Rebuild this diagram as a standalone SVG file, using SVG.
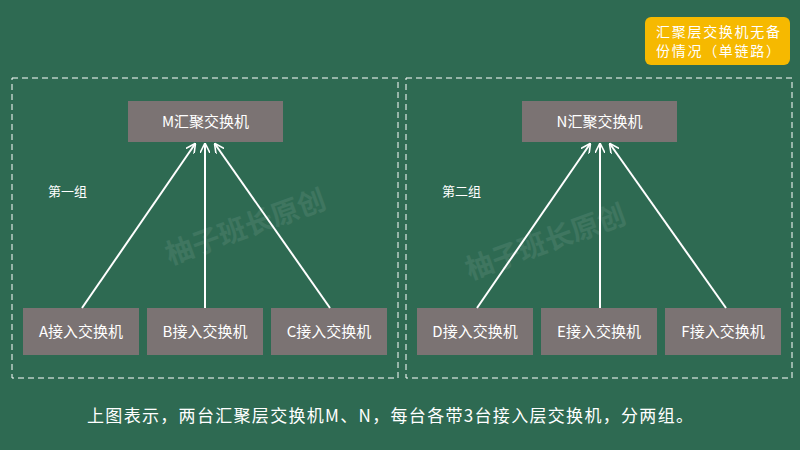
<svg xmlns="http://www.w3.org/2000/svg" width="800" height="450" viewBox="0 0 800 450">
<defs>
<marker id="ah" viewBox="0 0 10 10" refX="9" refY="5" markerWidth="10" markerHeight="10" markerUnits="userSpaceOnUse" orient="auto"><path d="M0,0 L10,5 L0,10" fill="none" stroke="#fff" stroke-width="1.6"/></marker>
<style>
text{font-family:"Noto Sans CJK SC","Liberation Sans",sans-serif;fill:#fff}
.box{fill:#7b7373}
.grp{fill:none;stroke:#fff;stroke-width:1;stroke-dasharray:6 4}
.t{font-size:15px;text-anchor:middle}
.a{stroke:#fff;stroke-width:2;fill:none;marker-end:url(#ah)}
.wm{font-size:28px;fill:#fff;opacity:0.08;font-weight:bold}
</style>
</defs>
<rect width="800" height="450" fill="#2e6a52"/>
<rect class="grp" x="12" y="78" width="386" height="300"/>
<rect class="grp" x="406" y="78" width="386" height="300"/>
<text class="wm" transform="translate(170,265) rotate(-20)">柚子班长原创</text>
<text class="wm" transform="translate(470,280) rotate(-20)">柚子班长原创</text>
<g id="legend"><rect x="645" y="17" width="145" height="48" rx="6" fill="#f6b900"/>
<text x="656" y="37" font-size="14" textLength="124">汇聚层交换机无备</text><text x="656" y="56" font-size="14" textLength="124">份情况（单链路）</text></g>
<text x="48" y="196" font-size="13">第一组</text>
<text x="442" y="196" font-size="13">第二组</text>
<g id="M"><rect class="box" x="128" y="101" width="155" height="41"/><text class="t" x="205.5" y="127">M汇聚交换机</text></g>
<g id="N"><rect class="box" x="522" y="101" width="155" height="41"/><text class="t" x="599.5" y="127">N汇聚交换机</text></g>
<g id="A"><rect class="box" x="23" y="308" width="116" height="47"/><text class="t" x="81" y="337">A接入交换机</text></g>
<g id="B"><rect class="box" x="147" y="308" width="116" height="47"/><text class="t" x="205" y="337">B接入交换机</text></g>
<g id="C"><rect class="box" x="271" y="308" width="116" height="47"/><text class="t" x="329" y="337">C接入交换机</text></g>
<g id="D"><rect class="box" x="417" y="308" width="116" height="47"/><text class="t" x="475" y="337">D接入交换机</text></g>
<g id="E"><rect class="box" x="541" y="308" width="116" height="47"/><text class="t" x="599" y="337">E接入交换机</text></g>
<g id="F"><rect class="box" x="665" y="308" width="116" height="47"/><text class="t" x="723" y="337">F接入交换机</text></g>
<g id="connectors">
<line class="a" x1="82" y1="308" x2="195" y2="144"/>
<line class="a" x1="205" y1="308" x2="205" y2="144"/>
<line class="a" x1="330" y1="308" x2="215" y2="144"/>
<line class="a" x1="477" y1="308" x2="590" y2="144"/>
<line class="a" x1="600" y1="308" x2="600" y2="144"/>
<line class="a" x1="726" y1="308" x2="610" y2="144"/>
</g>
<text x="87" y="422" font-size="17" textLength="606">上图表示，两台汇聚层交换机M、N，每台各带3台接入层交换机，分两组。</text>
</svg>
